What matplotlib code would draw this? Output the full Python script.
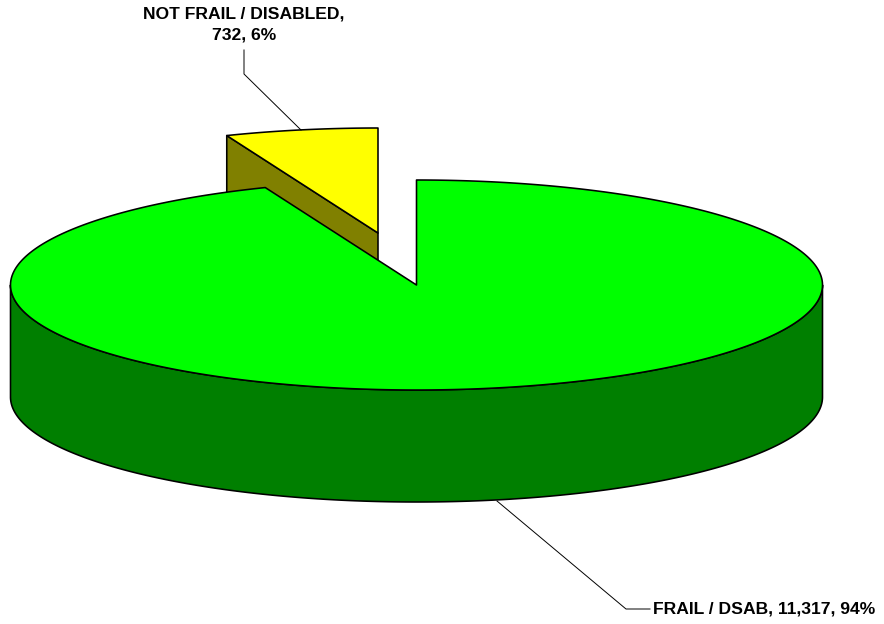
import numpy as np
import matplotlib
matplotlib.use("Agg")
import matplotlib.pyplot as plt
from matplotlib.patches import Polygon

categories = ["NOT FRAIL / DISABLED", "FRAIL / DSAB"]
values = [732, 11317]
label_text = ["NOT FRAIL / DISABLED,\n732, 6%", "FRAIL / DSAB, 11,317, 94%"]

W, H = 884, 624
fig = plt.figure(figsize=(W / 100, H / 100), dpi=100, facecolor="white")
ax = fig.add_axes([0, 0, 1, 1])
ax.set_xlim(0, W)
ax.set_ylim(H, 0)
ax.axis("off")

CX, CY, RX, RY, DEPTH = 416.5, 285, 406, 105, 112
EXPLODE = (-38.5, -52)
EDGE = dict(edgecolor="black", linewidth=1.15, joinstyle="round")


def arc(start, stop, cx, cy, n=300):
    """Angles are clockwise from twelve o'clock, in degrees."""
    t = np.radians(np.linspace(start, stop, n))
    return np.column_stack([cx + RX * np.sin(t), cy - RY * np.cos(t)])


share = 360 * values[0] / sum(values)

# Exploded slice: sits behind the main slice, spanning the last part of the circle
yx, yy = CX + EXPLODE[0], CY + EXPLODE[1]
y_arc = arc(360 - share, 360, yx, yy)
y_apex = np.array([[yx, yy]])
side = np.vstack([y_arc[0], y_apex, y_apex + [0, DEPTH], y_arc[0] + [0, DEPTH]])
ax.add_patch(Polygon(side, closed=True, facecolor="#808000", **EDGE, zorder=1))
ax.add_patch(Polygon(np.vstack([y_apex, y_arc]), closed=True, facecolor="#FFFF00", **EDGE, zorder=2))

# Main slice: rim, then top
rim_top = arc(90, 270, CX, CY)
rim = np.vstack([rim_top, (rim_top + [0, DEPTH])[::-1]])
ax.add_patch(Polygon(rim, closed=True, facecolor="#007F00", **EDGE, zorder=3))
g_arc = arc(0, 360 - share, CX, CY, 800)
ax.add_patch(Polygon(np.vstack([[[CX, CY]], g_arc]), closed=True, facecolor="#00FF00", **EDGE, zorder=4))

# Leader lines
ax.plot([301, 244, 244], [130, 74, 50], color="black", lw=0.7, zorder=5)
ax.plot([497, 626, 650], [501, 609, 609], color="black", lw=0.7, zorder=5)

font = dict(family=["Liberation Sans", "DejaVu Sans"], fontweight="bold", fontsize=12.6, color="black")
ax.text(244, 24.5, label_text[0], ha="center", va="center", linespacing=1.44, **font)
ax.text(653, 609, label_text[1], ha="left", va="center", **font)

fig.savefig("out.png", dpi=100, facecolor="white")
